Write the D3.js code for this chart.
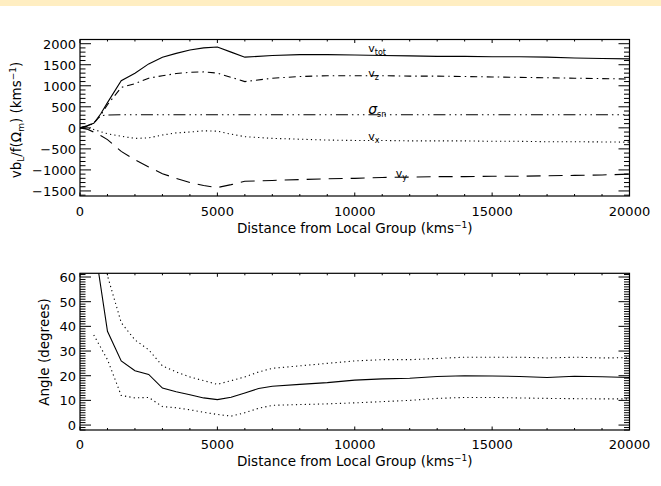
<!DOCTYPE html>
<html>
<head>
<meta charset="utf-8">
<script src="https://cdn.jsdelivr.net/npm/d3@7"></script>
<style>
  body { margin: 0; background: #fff; }
  svg { display: block; font-family: "DejaVu Sans", sans-serif; }
</style>
</head>
<body>
<div id="chart"></div>
<script>
// distances (km/s) for the velocity panel
const dist = [0, 250, 500, 750, 1000, 1500, 2000, 2500, 3000, 3500, 4000, 4500, 5000, 5500, 6000,
  7000, 8000, 9000, 10000, 11000, 12000, 13000, 14000, 15000, 16000, 17000, 18000, 19000, 20000];
const vTot = [0, 50, 110, 330, 600, 1120, 1300, 1520, 1680, 1770, 1850, 1900, 1920, 1800, 1680,
  1720, 1740, 1740, 1730, 1720, 1710, 1700, 1700, 1690, 1690, 1680, 1660, 1650, 1640];
const vZ = [0, 40, 100, 300, 550, 960, 1050, 1180, 1240, 1290, 1320, 1330, 1300, 1200, 1100,
  1180, 1220, 1240, 1240, 1240, 1230, 1230, 1220, 1210, 1200, 1190, 1180, 1170, 1160];
const sigmaSn = [0, 40, 120, 290, 305, 310, 310, 310, 310, 310, 310, 310, 310, 310, 310,
  310, 310, 310, 310, 310, 310, 310, 310, 310, 310, 310, 310, 310, 310];
const vX = [0, -10, -40, -90, -140, -200, -250, -240, -170, -120, -100, -70, -80, -150, -210,
  -250, -270, -290, -300, -300, -310, -310, -310, -320, -320, -330, -330, -335, -340];
const vY = [0, -30, -100, -180, -280, -560, -760, -930, -1090, -1200, -1300, -1370, -1420, -1350, -1270,
  -1250, -1230, -1210, -1200, -1180, -1170, -1160, -1160, -1150, -1150, -1140, -1130, -1120, -1100];

// distances for the angle panel
const angleDist = [500, 1000, 1500, 2000, 2500, 3000, 3500, 4000, 4500, 5000, 5500, 6000, 6500, 7000,
  8000, 9000, 10000, 11000, 12000, 13000, 14000, 15000, 16000, 17000, 18000, 19000, 20000];
const angle = [75, 38, 26, 22, 20.5, 15, 13.5, 12.3, 11, 10.3, 11.3, 13, 14.8, 15.7,
  16.5, 17.2, 18.2, 18.7, 19, 19.7, 20, 19.9, 19.7, 19.3, 19.8, 19.6, 19.3];
const angleHi = [95, 60.5, 41.5, 34.5, 30.5, 24, 21.5, 19.5, 18, 16.5, 18, 19.5, 21.5, 23,
  24, 25, 26, 26.5, 26.5, 27, 27.5, 27.5, 27.5, 27.2, 27.5, 27.2, 27.3];
const angleLo = [36.5, 26.5, 12, 11, 11.2, 7.5, 7, 6.2, 5.2, 4.3, 3.6, 5, 6.8, 8,
  8.3, 8.6, 9, 9.5, 10, 10.8, 11.2, 11.2, 11, 10.8, 10.7, 10.6, 10.6];

const xTicks = [0, 5000, 10000, 15000, 20000];
const vTicks = [-1500, -1000, -500, 0, 500, 1000, 1500, 2000];
const aTicks = [0, 10, 20, 30, 40, 50, 60];

const W = 661, H = 486;
const svg = d3.select('#chart').append('svg').attr('width', W).attr('height', H);

// pale banner strip along the top edge
svg.append('rect').attr('x', 0).attr('y', 0).attr('width', W).attr('height', 6).attr('fill', '#ffeec2');

const x = d3.scaleLinear().domain([0, 20000]).range([80, 629.5]);
const yV = d3.scaleLinear().domain([-1620, 2100]).range([196, 39.5]);
const yA = d3.scaleLinear().domain([-2, 61.5]).range([430, 273.3]);

const fmt = d3.format('d');

function drawFrame(y, majors, minorStep, xLabelY, titleY) {
  const [y0, y1] = y.range();
  const x0 = x.range()[0], x1 = x.range()[1];
  const yMin = y.domain()[0], yMax = y.domain()[1];
  const minors = d3.range(Math.ceil(yMin / minorStep) * minorStep, yMax + 0.001, minorStep);
  const xMinors = d3.range(0, 20001, 1000);

  const g = svg.append('g').attr('stroke', '#000').attr('stroke-width', 1);
  // y ticks left and right (inward)
  minors.forEach(v => {
    const major = majors.includes(v);
    const len = major ? 11 : 5.5;
    g.append('line').attr('x1', x0).attr('x2', x0 + len).attr('y1', y(v)).attr('y2', y(v));
    g.append('line').attr('x1', x1).attr('x2', x1 - len).attr('y1', y(v)).attr('y2', y(v));
  });
  // x ticks bottom and top
  xMinors.forEach(d => {
    const len = xTicks.includes(d) ? 3.5 : 2;
    g.append('line').attr('x1', x(d)).attr('x2', x(d)).attr('y1', y0).attr('y2', y0 - len);
    g.append('line').attr('x1', x(d)).attr('x2', x(d)).attr('y1', y1).attr('y2', y1 + len);
  });
  svg.append('rect')
    .attr('x', x0).attr('y', y1).attr('width', x1 - x0).attr('height', y0 - y1)
    .attr('fill', 'none').attr('stroke', '#000').attr('stroke-width', 1.2);

  svg.append('g').selectAll('text').data(majors).enter().append('text')
    .attr('x', x0 - 4).attr('y', d => y(d) + 5)
    .attr('text-anchor', 'end').style('font-size', '13px')
    .text(d => fmt(d));
  svg.append('g').selectAll('text').data(xTicks).enter().append('text')
    .attr('x', d => x(d)).attr('y', xLabelY)
    .attr('text-anchor', 'middle').style('font-size', '13px')
    .text(d => fmt(d));

  const t = svg.append('text').attr('x', (x0 + x1) / 2).attr('y', titleY)
    .attr('text-anchor', 'middle').style('font-size', '13.5px');
  t.append('tspan').text('Distance from Local Group (kms');
  t.append('tspan').attr('dy', -5).style('font-size', '9px').text('−1');
  t.append('tspan').attr('dy', 5).text(')');
}

drawFrame(yV, vTicks, 100, 216, 233);
drawFrame(yA, aTicks, 1, 449, 466);

// y axis titles
const t1 = svg.append('text').attr('transform', 'translate(21,120) rotate(-90)')
  .attr('text-anchor', 'middle').style('font-size', '13.5px');
t1.append('tspan').text('vb');
t1.append('tspan').attr('dy', 3).style('font-size', '9px').text('L');
t1.append('tspan').attr('dy', -3).text('/f(Ω');
t1.append('tspan').attr('dy', 3).style('font-size', '9px').text('m');
t1.append('tspan').attr('dy', -3).text(')  (kms');
t1.append('tspan').attr('dy', -5).style('font-size', '9px').text('−1');
t1.append('tspan').attr('dy', 5).text(')');

svg.append('text').attr('transform', 'translate(49,352) rotate(-90)')
  .attr('text-anchor', 'middle').style('font-size', '13.5px').text('Angle (degrees)');

// clip regions
const defs = svg.append('defs');
[['clipV', yV], ['clipA', yA]].forEach(([id, y]) => {
  defs.append('clipPath').attr('id', id).append('rect')
    .attr('x', x.range()[0]).attr('y', y.range()[1])
    .attr('width', x.range()[1] - x.range()[0]).attr('height', y.range()[0] - y.range()[1]);
});

function drawLine(xs, ys, y, dash, clip) {
  const line = d3.line().x((d, i) => x(xs[i])).y(d => y(d));
  svg.append('path').datum(ys)
    .attr('d', line)
    .attr('fill', 'none').attr('stroke', '#000').attr('stroke-width', 1.1)
    .attr('stroke-dasharray', dash)
    .attr('clip-path', `url(#${clip})`);
}

drawLine(dist, vTot, yV, null, 'clipV');
drawLine(dist, vZ, yV, '7,4,1.5,4', 'clipV');
drawLine(dist, sigmaSn, yV, '12,4,1.5,4,1.5,4,1.5,4', 'clipV');
drawLine(dist, vX, yV, '1.2,3.2', 'clipV');
drawLine(dist, vY, yV, '14,8', 'clipV');

drawLine(angleDist, angle, yA, null, 'clipA');
drawLine(angleDist, angleHi, yA, '1.2,3.2', 'clipA');
drawLine(angleDist, angleLo, yA, '1.2,3.2', 'clipA');

// curve labels
const labels = [
  { main: 'v', sub: 'tot', series: vTot, at: 10600, dy: -3, italic: false },
  { main: 'v', sub: 'z', series: vZ, at: 10600, dy: 1, italic: false },
  { main: 'σ', sub: 'sn', series: sigmaSn, at: 10600, dy: -1, italic: true },
  { main: 'v', sub: 'x', series: vX, at: 10600, dy: 0, italic: false },
  { main: 'v', sub: 'y', series: vY, at: 11600, dy: 0, italic: false }
];
labels.forEach(l => {
  const i = d3.bisectLeft(dist, l.at);
  const yy = yV(l.series[i]) + l.dy;
  const t = svg.append('text').attr('x', x(l.at) - 3).attr('y', yy)
    .style('font-size', l.italic ? '14px' : '11px');
  t.append('tspan').style('font-style', l.italic ? 'italic' : 'normal').text(l.main);
  t.append('tspan').attr('dy', 3).style('font-size', '8px').text(l.sub);
});
</script>
</body>
</html>
